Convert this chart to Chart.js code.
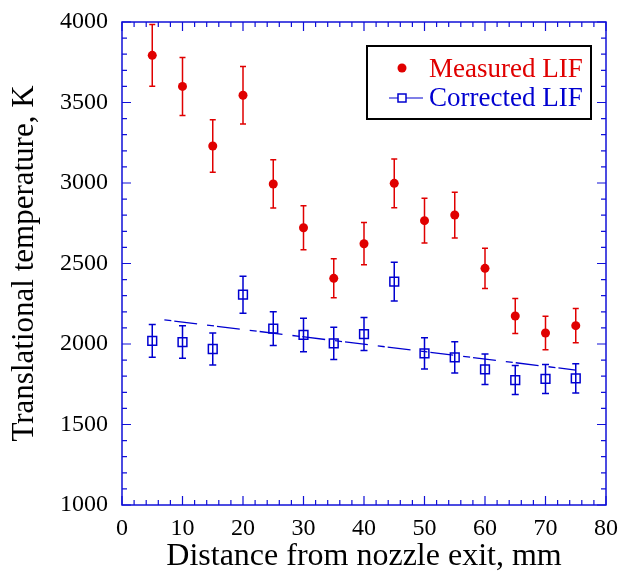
<!DOCTYPE html>
<html>
<head>
<meta charset="utf-8">
<script src="https://cdn.jsdelivr.net/npm/chart.js@4.4.1/dist/chart.umd.min.js"></script>
<style>
html,body{margin:0;padding:0;background:#fff;}
#wrap{width:621px;height:577px;}
</style>
</head>
<body>
<div id="wrap"><canvas id="c" width="621" height="577"></canvas></div>
<script>
// ---- data ----
const distance = [5,10,15,20,25,30,35,40,45,50,55,60,65,70,75];
const measuredLIF = [3793,3600,3230,3545,2994,2722,2408,2623,2998,2766,2801,2470,2174,2068,2114];
const measuredErr = [192,180,163,178,150,136,121,131,151,139,142,125,109,104,106];
const correctedLIF = [2019,2012,1969,2306,2095,2056,2004,2062,2387,1942,1917,1843,1776,1783,1787];
const correctedErr = [102,101,99,115,105,104,100,103,120,97,97,95,90,90,91];
const fitX = [7,75];
const fitY = [2150,1838];
const xTicks = [0,10,20,30,40,50,60,70,80];
const yTicks = [1000,1500,2000,2500,3000,3500,4000];

const RED = '#e00000';
const BLUE = '#0000d0';
const AXIS = '#1010d8';
const FONT = '"Liberation Serif", "DejaVu Serif", serif';

const toPts = (xs, ys) => xs.map((x,i)=>({x:x, y:ys[i]}));

const errorBars = {
  id:'errorBars',
  afterDatasetsDraw(chart){
    const ctx = chart.ctx, xs = chart.scales.x, ys = chart.scales.y;
    const sets = [[measuredLIF, measuredErr, RED, 3],[correctedLIF, correctedErr, BLUE, 3.5]];
    ctx.save();
    sets.forEach(([vals, errs, col, cap])=>{
      ctx.strokeStyle = col; ctx.lineWidth = 1.5;
      vals.forEach((v,i)=>{
        const px = xs.getPixelForValue(distance[i]);
        const t = ys.getPixelForValue(v+errs[i]);
        const b = ys.getPixelForValue(v-errs[i]);
        ctx.beginPath();
        ctx.moveTo(px,t); ctx.lineTo(px,b);
        ctx.moveTo(px-cap,t); ctx.lineTo(px+cap,t);
        ctx.moveTo(px-cap,b); ctx.lineTo(px+cap,b);
        ctx.stroke();
      });
    });
    ctx.restore();
  }
};

const frameTicks = {
  id:'frameTicks',
  afterDraw(chart){
    const ctx = chart.ctx, xs = chart.scales.x, ys = chart.scales.y;
    const a = chart.chartArea;
    ctx.save();
    ctx.strokeStyle = AXIS; ctx.lineWidth = 1.5;
    ctx.strokeRect(a.left, a.top, a.right-a.left, a.bottom-a.top);
    ctx.lineWidth = 1.2;
    ctx.beginPath();
    for(let v=0; v<=80; v+=2){
      const px = xs.getPixelForValue(v);
      const L = (v%10===0)?9:5;
      ctx.moveTo(px,a.bottom); ctx.lineTo(px,a.bottom-L);
      ctx.moveTo(px,a.top); ctx.lineTo(px,a.top+L);
    }
    for(let v=1000; v<=4000; v+=100){
      const py = ys.getPixelForValue(v);
      const L = (v%500===0)?9:5;
      ctx.moveTo(a.left,py); ctx.lineTo(a.left+L,py);
      ctx.moveTo(a.right,py); ctx.lineTo(a.right-L,py);
    }
    ctx.stroke();
    ctx.restore();
  }
};

const legendBox = {
  id:'legendBox',
  afterDraw(chart){
    const ctx = chart.ctx;
    ctx.save();
    ctx.fillStyle = '#fff';
    ctx.fillRect(367,46,224,73);
    ctx.strokeStyle = '#000'; ctx.lineWidth = 2;
    ctx.strokeRect(367,46,224,73);
    // entry 1
    ctx.fillStyle = RED;
    ctx.beginPath(); ctx.arc(402,68,4.5,0,Math.PI*2); ctx.fill();
    ctx.font = '27px ' + FONT;
    ctx.textBaseline = 'middle';
    ctx.textAlign = 'left';
    ctx.fillText('Measured LIF', 429, 70);
    // entry 2
    ctx.strokeStyle = BLUE; ctx.lineWidth = 1.2;
    ctx.beginPath(); ctx.moveTo(389,98); ctx.lineTo(423,98); ctx.stroke();
    ctx.fillStyle = '#fff';
    ctx.fillRect(398,94,8,8);
    ctx.lineWidth = 1.5;
    ctx.strokeRect(398,94,8,8);
    ctx.fillStyle = BLUE;
    ctx.fillText('Corrected LIF', 429, 99);
    ctx.restore();
  }
};

new Chart(document.getElementById('c'), {
  type:'scatter',
  data:{
    datasets:[
      {label:'Fit', data: toPts(fitX, fitY), showLine:true, borderColor:BLUE, borderWidth:1.3,
       borderDash:[7,3,23,10], pointRadius:0, fill:false},
      {label:'Measured LIF', data: toPts(distance, measuredLIF), backgroundColor:RED, borderColor:RED,
       pointStyle:'circle', pointRadius:4.5, borderWidth:0},
      {label:'Corrected LIF', data: toPts(distance, correctedLIF), backgroundColor:'rgba(255,255,255,0)', borderColor:BLUE,
       pointStyle:'rect', pointRadius:6.2, borderWidth:1.5}
    ]
  },
  options:{
    responsive:false,
    animation:false,
    events:[],
    layout:{padding:{top:22, right:15, left:0, bottom:0}},
    plugins:{legend:{display:false}, tooltip:{enabled:false}},
    scales:{
      x:{
        type:'linear', min:0, max:80,
        afterBuildTicks: s => { s.ticks = xTicks.map(v=>({value:v})); },
        afterFit: s => { s.height = 72; s.paddingLeft = 0; s.paddingRight = 0; },
        grid:{display:false, drawTicks:false},
        border:{display:false},
        ticks:{color:'#000', font:{family:FONT, size:24}, padding:9, maxRotation:0, callback: v => String(v)},
        title:{display:true, text:'Distance from nozzle exit, mm', color:'#000',
               font:{family:FONT, size:32}, padding:{top:0,bottom:1}}
      },
      y:{
        type:'linear', min:1000, max:4000,
        afterBuildTicks: s => { s.ticks = yTicks.map(v=>({value:v})); },
        afterFit: s => { s.width = 122; s.paddingTop = 0; s.paddingBottom = 0; },
        grid:{display:false, drawTicks:false},
        border:{display:false},
        ticks:{color:'#000', font:{family:FONT, size:24}, padding:14, callback: v => String(v)},
        title:{display:true, text:'Translational temperature, K', color:'#000',
               font:{family:FONT, size:31}, padding:{top:6,bottom:0}}
      }
    }
  },
  plugins:[errorBars, frameTicks, legendBox]
});
</script>
</body>
</html>
